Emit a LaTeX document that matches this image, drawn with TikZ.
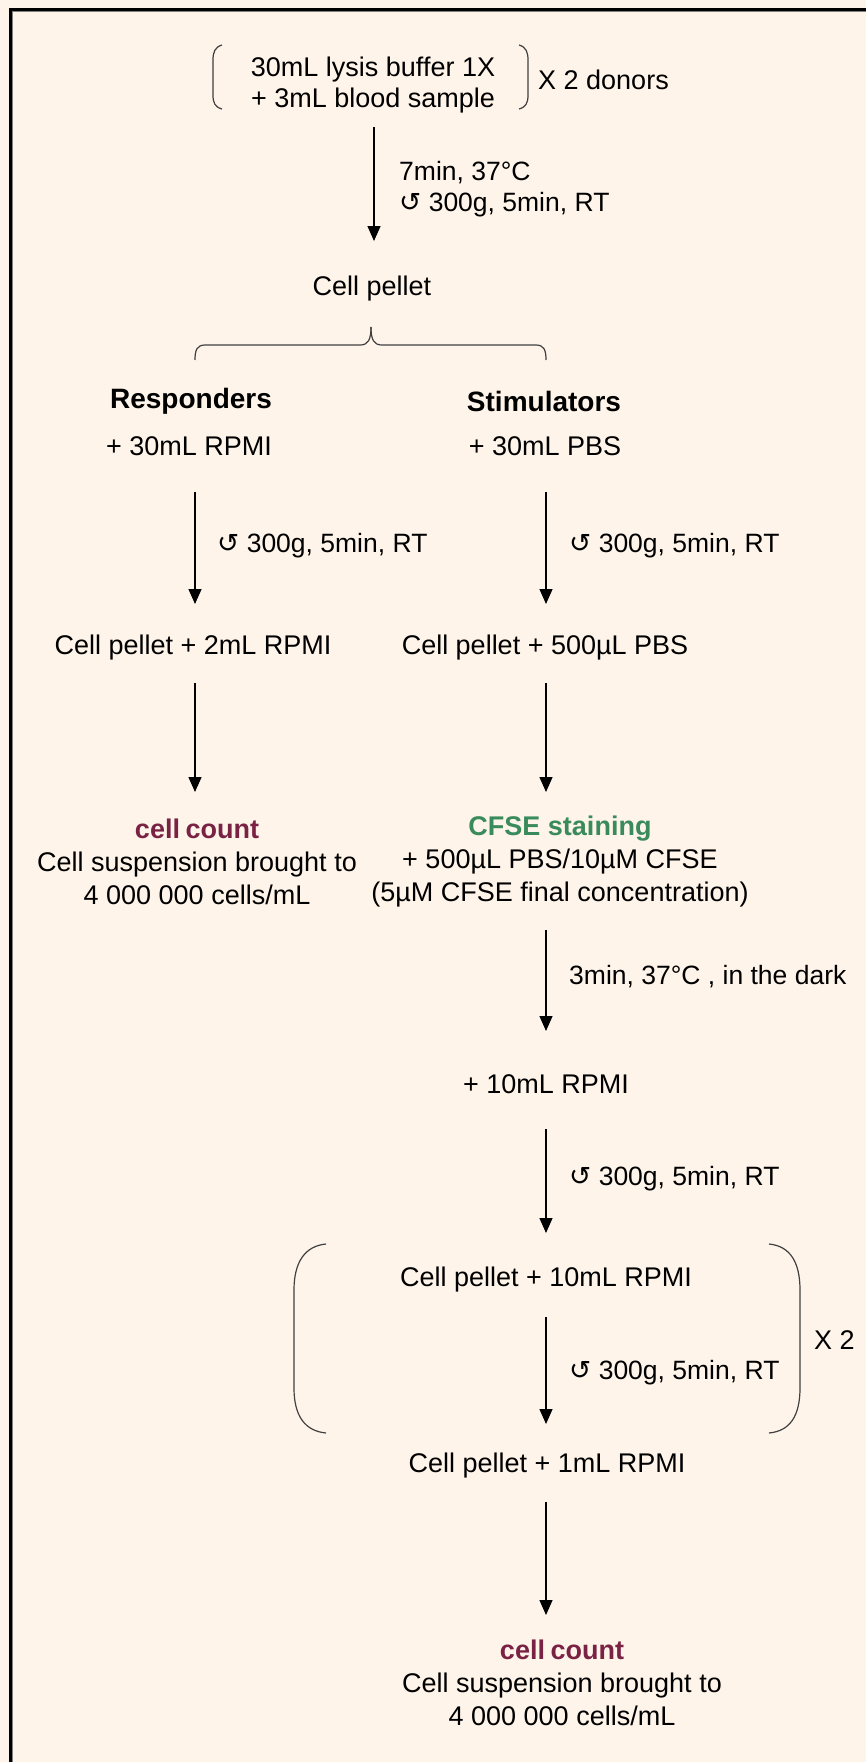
\documentclass[tikz,border=0pt]{standalone}
\usepackage{fontspec}
\setmainfont{Liberation Sans}
\newfontfamily\symf{DejaVu Sans}
\usetikzlibrary{arrows.meta}
\definecolor{bgcream}{HTML}{FEF4EA}
\definecolor{ccred}{HTML}{7A2244}
\definecolor{cfsegreen}{HTML}{3A8B5C}
\definecolor{parengray}{HTML}{404040}
\begin{document}
\begin{tikzpicture}[x=1pt,y=-1pt,
  txt/.style={font=\fontsize{27}{30}\selectfont, inner sep=0pt, align=center},
  blocktxt/.style={font=\fontsize{27}{33}\selectfont, inner sep=0pt, align=center},
  toptxt/.style={font=\fontsize{27}{31}\selectfont, inner sep=0pt, align=center},
  lab/.style={font=\fontsize{26.5}{31}\selectfont, inner sep=0pt, anchor=west, align=left},
  bold/.style={font=\bfseries\fontsize{28}{30}\selectfont, inner sep=0pt},
  arr/.style={line width=1.3pt, -{Triangle[width=13pt,length=15pt]}},
  paren/.style={line width=1.2pt, draw=parengray}]
\useasboundingbox (0,0) rectangle (866,1762);
\fill[bgcream] (0,0) rectangle (866,1762);
\draw[line width=3pt] (10,1762) -- (10,9.5) -- (866,9.5);
\draw[line width=0.8pt, gray] (12.2,1762) -- (12.2,11.7) -- (866,11.7);

% top block
\node[toptxt] (lysis) at (373,85) {30mL lysis buffer 1X\\+ 3mL blood sample};
\node[txt, anchor=west] (donors) at (538,80) {X 2 donors};
\draw[paren] (222,45) .. controls (215,47) and (213,52) .. (213,60) -- (213,95) .. controls (213,103) and (215,107) .. (222,109);
\draw[paren] (519,45) .. controls (526,47) and (528,52) .. (528,60) -- (528,95) .. controls (528,103) and (526,107) .. (519,109);

\node[lab] (lab1) at (399,189) {7min, 37°C\\{\symf ↺} 300g, 5min, RT};
\node[txt] (pellet) at (372,289) {Cell pellet};
\draw[arr, shorten <=42pt, shorten >=48pt] ([xshift=1pt]lysis.center) -- ([xshift=1pt]lysis.center |- pellet.center);

% brace
\coordinate (bl) at (195,360);
\coordinate (br) at (546,360);
\draw[paren] (bl) .. controls (195,350) and (197,345) .. (205,345) -- (360,345) .. controls (368,345) and (371,340) .. (371,327);
\draw[paren] (371,327) .. controls (371,340) and (374,345) .. (382,345) -- (536,345) .. controls (544,345) and (546,350) .. (br);

% columns
\node[bold] (resp) at (191,401) {Responders};
\node[txt] (resp2) at (189,446) {+ 30mL RPMI};
\node[bold] (stim) at (544,401) {Stimulators};
\node[txt] (stim2) at (545,446) {+ 30mL PBS};

\node[txt] (cpL) at (193,648) {Cell pellet + 2mL RPMI};
\node[txt] (cpR) at (545,648) {Cell pellet + 500µL PBS};

\draw[arr, shorten <=46pt, shorten >=44pt] ([xshift=6pt]resp2.center) -- ([xshift=6pt]resp2.center |- cpL.center);
\node[lab] (labL) at (217,546) {{\symf ↺} 300g, 5min, RT};
\draw[arr, shorten <=46pt, shorten >=44pt] ([xshift=1pt]stim2.center) -- ([xshift=1pt]stim2.center |- cpR.center);
\node[lab] (labR) at (569,546) {{\symf ↺} 300g, 5min, RT};

\node[blocktxt] (countL) at (197,862) {{\bfseries\color{ccred}cell\hspace{-2pt} count}\\Cell suspension brought to\\4 000 000 cells/mL};
\node[blocktxt] (cfse) at (560,862) {{\bfseries\color{cfsegreen}CFSE staining}\\+ 500µL PBS/10µM CFSE\\(5µM CFSE final concentration)};

\draw[arr, shorten <=35pt, shorten >=70pt] ([xshift=2pt]cpL.center) -- ([xshift=2pt]cpL.center |- countL.center);
\draw[arr, shorten <=35pt, shorten >=70pt] ([xshift=1pt]cpR.center) -- ([xshift=1pt]cpR.center |- cfse.center);

\node[txt] (rpmi10) at (546,1084) {+ 10mL RPMI};
\draw[arr, shorten <=68pt, shorten >=53pt] ([xshift=-14pt]cfse.center) -- ([xshift=-14pt]cfse.center |- rpmi10.center);
\node[lab] (labC) at (569,977) {3min, 37°C , in the dark};

\node[txt] (cp10) at (546,1280) {Cell pellet + 10mL RPMI};
\draw[arr, shorten <=45pt, shorten >=47pt] (rpmi10.center) -- (rpmi10.center |- cp10.center);
\node[lab] (labD) at (569,1179) {{\symf ↺} 300g, 5min, RT};

% big bracket
\draw[paren] (326,1244) .. controls (305,1246) and (294,1262) .. (294,1290) -- (294,1388) .. controls (294,1416) and (305,1431) .. (326,1433);
\draw[paren] (769,1244) .. controls (790,1246) and (800,1262) .. (800,1290) -- (800,1388) .. controls (800,1416) and (790,1431) .. (769,1433);
\node[txt, anchor=west] (x2) at (814,1340) {X 2};

\node[txt] (cp1) at (547,1465) {Cell pellet + 1mL RPMI};
\draw[arr, shorten <=37pt, shorten >=41pt] (cp10.center) -- (cp10.center |- cp1.center);
\node[lab] (labE) at (569,1373) {{\symf ↺} 300g, 5min, RT};

\node[blocktxt] (countB) at (562,1683) {{\bfseries\color{ccred}cell\hspace{-2pt} count}\\Cell suspension brought to\\4 000 000 cells/mL};
\draw[arr, shorten <=37pt, shorten >=68pt] ([xshift=-1pt]cp1.center) -- ([xshift=-1pt]cp1.center |- countB.center);
\end{tikzpicture}
\end{document}
